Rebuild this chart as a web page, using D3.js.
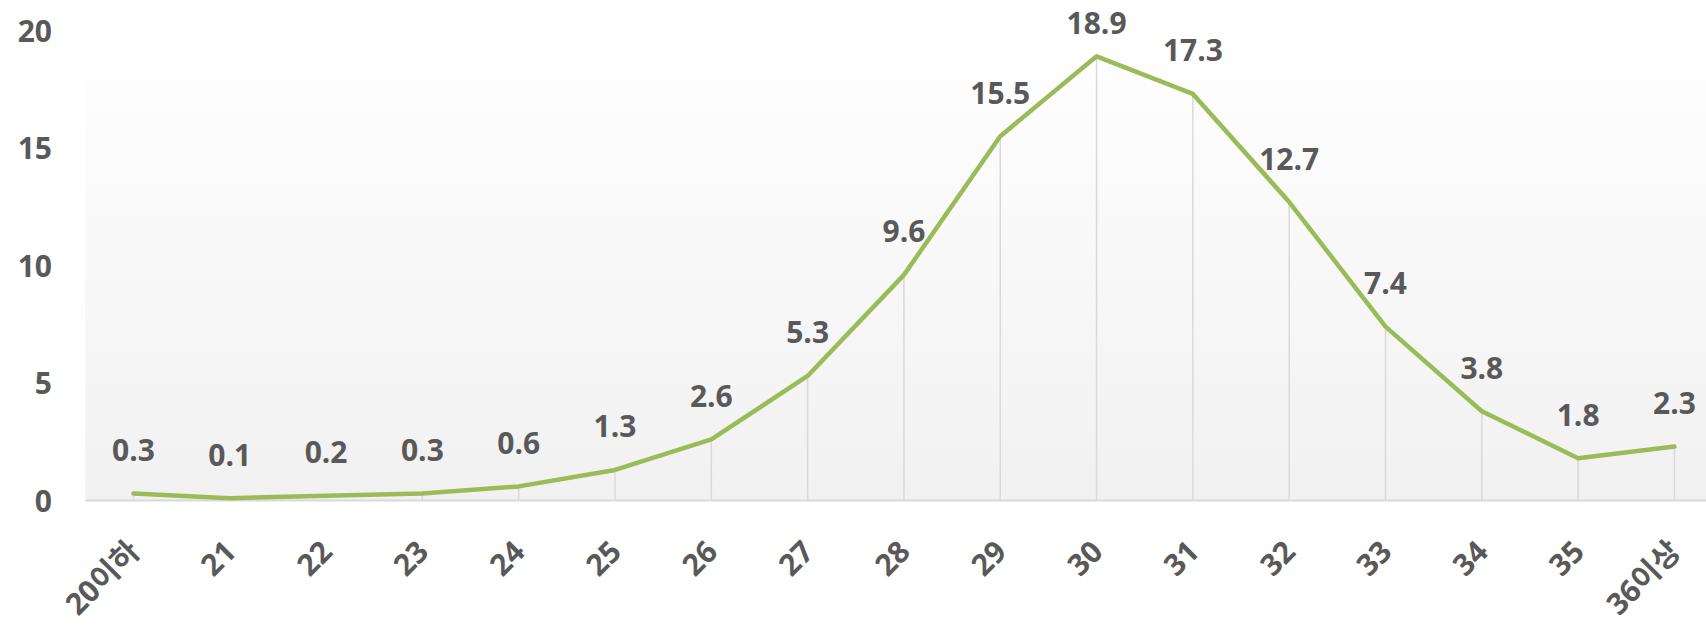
<!DOCTYPE html>
<html>
<head>
<meta charset="utf-8">
<script src="https://cdn.jsdelivr.net/npm/d3@7"></script>
<style>
  html, body { margin: 0; padding: 0; background: #ffffff; }
  svg { display: block; }
  text { font-family: "Open Sans", "Noto Sans CJK KR", sans-serif; font-weight: 700; fill: #595959; }
</style>
</head>
<body>
<svg id="chart" width="1706" height="626"></svg>
<script>
// Share (%) by category
const categories = ["20이하", "21", "22", "23", "24", "25", "26", "27", "28", "29", "30", "31", "32", "33", "34", "35", "36이상"];
const values = [0.3, 0.1, 0.2, 0.3, 0.6, 1.3, 2.6, 5.3, 9.6, 15.5, 18.9, 17.3, 12.7, 7.4, 3.8, 1.8, 2.3];
const yTicks = [0, 5, 10, 15, 20];

const W = 1706, H = 626;
const plot = { left: 85.3, right: 1722.6, top: 30.5, bottom: 500.5 };

const svg = d3.select("#chart");

const x = d3.scaleBand()
  .domain(categories)
  .range([plot.left, plot.right]);
const cx = d => x(d) + x.bandwidth() / 2;

const y = d3.scaleLinear()
  .domain([0, 20])
  .range([plot.bottom, plot.top]);

// Plot-area background: soft vertical gradient
const defs = svg.append("defs");
const grad = defs.append("linearGradient")
  .attr("id", "bg").attr("x1", 0).attr("y1", 0).attr("x2", 0).attr("y2", 1);
grad.append("stop").attr("offset", "0%").attr("stop-color", "#ffffff");
grad.append("stop").attr("offset", "100%").attr("stop-color", "#f1f1f1");

svg.append("rect")
  .attr("x", plot.left).attr("y", plot.top)
  .attr("width", plot.right - plot.left)
  .attr("height", plot.bottom - plot.top)
  .attr("fill", "url(#bg)");

// Drop lines from each point to the category axis
const pts = categories.map((c, i) => ({ c, v: values[i] }));
svg.append("g").selectAll("line")
  .data(pts).join("line")
  .attr("x1", d => cx(d.c)).attr("x2", d => cx(d.c))
  .attr("y1", d => y(d.v)).attr("y2", y(0))
  .attr("stroke", "#d9d9d9").attr("stroke-width", 1.5);

// Category axis line
svg.append("line")
  .attr("x1", plot.left).attr("x2", plot.right)
  .attr("y1", y(0)).attr("y2", y(0))
  .attr("stroke", "#d9d9d9").attr("stroke-width", 2);

// Value axis labels
const yAxis = d3.axisLeft(y).tickValues(yTicks).tickSize(0).tickPadding(0);
const gy = svg.append("g").attr("transform", "translate(52,0)").call(yAxis);
gy.select(".domain").remove();
gy.selectAll("text")
  .attr("font-size", 30)
  .attr("dy", "0.36em")
  .attr("fill", "#595959")
  .style("font-family", '"Open Sans", "Noto Sans CJK KR", sans-serif')
  .style("font-weight", 700);

// Category labels, rotated
const xAxis = d3.axisBottom(x).tickSize(0).tickPadding(0);
const gx = svg.append("g").attr("transform", `translate(0,${y(0)})`).call(xAxis);
gx.select(".domain").remove();
gx.selectAll(".tick text")
  .attr("y", 0).attr("dy", 0)
  .attr("text-anchor", "end")
  .attr("transform", "translate(8,53) rotate(-45)")
  .attr("font-size", 30)
  .attr("fill", "#595959")
  .style("font-family", '"Open Sans", "Noto Sans CJK KR", sans-serif')
  .style("font-weight", 700);

// Series line
const line = d3.line().x(d => cx(d.c)).y(d => y(d.v));
svg.append("path")
  .datum(pts)
  .attr("d", line)
  .attr("fill", "none")
  .attr("stroke", "#9bbb59")
  .attr("stroke-width", 4.5)
  .attr("stroke-linejoin", "round")
  .attr("stroke-linecap", "round");

// Value labels above points
svg.append("g").selectAll("text")
  .data(pts).join("text")
  .attr("x", d => cx(d.c))
  .attr("y", d => Math.max(y(d.v) - 44, 22) + 11.5)
  .attr("text-anchor", "middle")
  .attr("font-size", 30)
  .text(d => d.v.toFixed(1));
</script>
</body>
</html>
